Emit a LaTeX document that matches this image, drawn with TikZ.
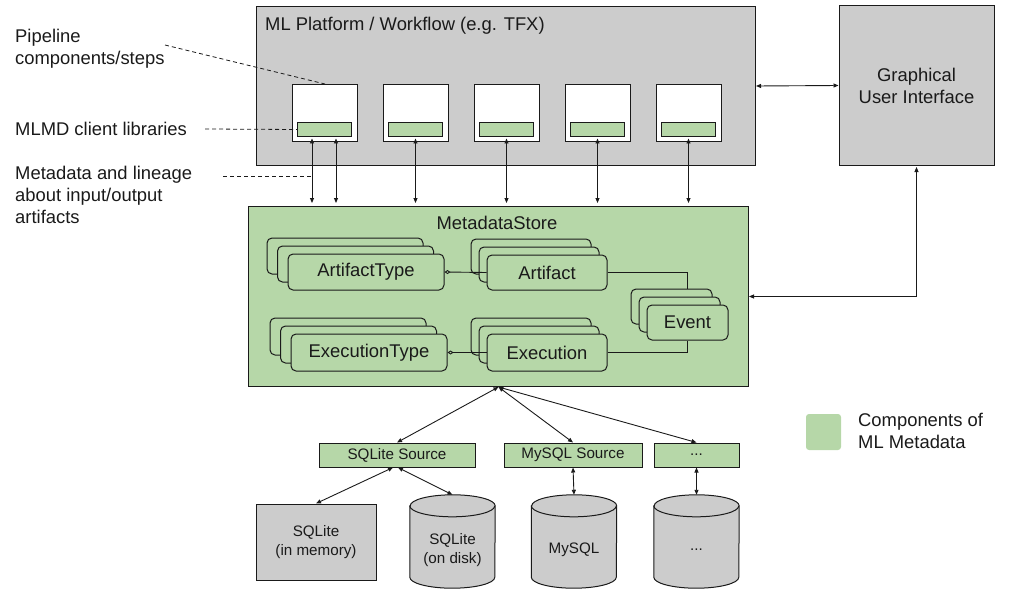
\documentclass[tikz,border=0pt]{standalone}
\usepackage{fontspec}
\setmainfont{Liberation Sans}
\usetikzlibrary{arrows.meta,shapes.geometric,shadows,calc}
\pgfdeclarelayer{bg}
\pgfdeclarelayer{mid}
\pgfsetlayers{bg,mid,main}
\definecolor{gfill}{HTML}{CCCCCC}
\definecolor{mlg}{HTML}{B6D7A8}
\definecolor{ink}{HTML}{1A1A1A}
\begin{document}
\begin{tikzpicture}[x=1pt,y=-1pt,
  every node/.style={font=\fontsize{18.4}{22}\selectfont, text=ink},
  smallfont/.style={font=\fontsize{15.2}{19}\selectfont},
  gbox/.style={draw=ink, line width=1pt, fill=gfill, inner sep=0pt, align=center},
  wbox/.style={draw=ink, line width=1pt, fill=white, inner sep=0pt, minimum width=65pt, minimum height=57pt, anchor=north west},
  lbar/.style={draw=ink, line width=1pt, fill=mlg, inner sep=0pt, minimum width=54pt, minimum height=14pt, anchor=north west},
  stk/.style={draw=ink, line width=1pt, fill=mlg, rounded corners=5pt, inner sep=0pt, align=center},
  stkw/.style={stk,
    copy shadow={shadow xshift=-21pt, shadow yshift=16pt, fill=mlg, draw=ink, line width=1pt},
    copy shadow={shadow xshift=-10.5pt, shadow yshift=8pt, fill=mlg, draw=ink, line width=1pt}},
  stkn/.style={stk,
    copy shadow={shadow xshift=-16pt, shadow yshift=16pt, fill=mlg, draw=ink, line width=1pt},
    copy shadow={shadow xshift=-8pt, shadow yshift=8pt, fill=mlg, draw=ink, line width=1pt}},
  srcbox/.style={draw=ink, line width=1pt, fill=mlg, inner sep=0pt, minimum height=24pt, smallfont},
  cylbox/.style={rectangle, draw=none, minimum width=85pt, minimum height=93pt, inner sep=0pt},
  cyltext/.style={align=center, inner sep=0pt, smallfont},
  wire/.style={draw=ink, line width=0.9pt},
  bi/.style={wire, {Triangle[length=5pt,width=4pt]}-{Triangle[length=5pt,width=4pt]}},
  leader/.style={draw=ink, line width=0.8pt, dash pattern=on 4pt off 3pt}
]
\useasboundingbox (0,0) rectangle (1009,599);

% platform
\node[gbox, minimum width=499pt, minimum height=159pt, anchor=north west] (plat) at (256,6) {};
\node[anchor=west, inner sep=0pt] (platT) at (265,26) {ML Platform / Workflow (e.g. TFX)};
\foreach \i in {1,...,5}{
  \node[wbox] (c\i) at ({292+91*(\i-1)},84) {};
  \node[lbar] (l\i) at ({297+91*(\i-1)},122) {};
}
\node[gbox, minimum width=155pt, minimum height=159pt] (gui) at (916.5,85.5) {Graphical\\User Interface};

% metadata store
\begin{pgfonlayer}{bg}
\node[draw=ink, line width=1pt, fill=mlg, minimum width=500pt, minimum height=180pt, anchor=north west, inner sep=0pt] (store) at (248,206) {};
\end{pgfonlayer}
\node (storeT) at (497,223) {MetadataStore};

\node[stkw, minimum width=156pt, minimum height=36pt] (atype) at (366,272) {ArtifactType};
\node[stkn, minimum width=120pt, minimum height=35pt] (art) at (547,272.5) {Artifact};
\node[stkn, minimum width=81pt, minimum height=35pt] (event) at (687.5,322.5) {Event};
\node[stkw, minimum width=156pt, minimum height=37pt] (etype) at (369,352.5) {ExecutionType};
\node[stkn, minimum width=120pt, minimum height=37pt] (exe) at (547,352.5) {Execution};

\draw[wire, {Diamond[open,length=6pt,width=4pt]}-] (atype.east) -- (art.west);
\draw[wire, {Diamond[open,length=6pt,width=4pt]}-] (etype.east) -- (exe.west);
\begin{pgfonlayer}{mid}
\draw[wire] (art.east) -| (event.north);
\draw[wire] (exe.east) -| (event.south);
\end{pgfonlayer}

% platform <-> store
\coordinate (a1) at ($(l1.south west)+(15,0)$);
\coordinate (a2) at ($(l1.south west)+(39,0)$);
\draw[bi, shorten <=1.5pt, shorten >=3pt] (a1) -- (a1 |- store.north);
\draw[bi, shorten <=1.5pt, shorten >=3pt] (a2) -- (a2 |- store.north);
\foreach \i in {2,...,5}{
  \draw[bi, shorten <=1.5pt, shorten >=3pt] (l\i.south) -- (l\i.south |- store.north);
}
\draw[bi] (plat.east) -- (gui.west);
\draw[bi, shorten <=1.5pt] (gui.south) |- (store.east);

% sources
\node[srcbox, minimum width=156pt] (s1) at (397,455) {SQLite Source};
\node[srcbox, minimum width=138pt] (s2) at (573,455) {MySQL Source};
\node[srcbox, minimum width=85pt] (s3) at (696.5,455) {...};
\draw[bi] (store.south) -- (s1.north);
\draw[bi] (store.south) -- (s2.north);
\draw[bi] (store.south) -- (s3.north);

% storage back ends
\node[gbox, minimum width=120pt, minimum height=76pt, smallfont] (mem) at (316,542) {SQLite\\(in memory)};
\node[cylbox] (disk) at (452.5,541.5) {};
\node[cylbox] (mysql) at (574,541.5) {};
\node[cylbox] (other) at (696.5,541.5) {};
\begin{pgfonlayer}{mid}
\foreach \n in {disk,mysql,other}{
  \draw[draw=ink, line width=1pt, fill=gfill]
    ($(\n.north west)+(0,11)$) -- ($(\n.south west)+(0,-11)$)
    arc[start angle=180, end angle=360, x radius=42.5pt, y radius=11pt]
    -- ($(\n.north east)+(0,11)$)
    arc[start angle=0, end angle=180, x radius=42.5pt, y radius=11pt] -- cycle;
  \draw[draw=ink, line width=1pt]
    ($(\n.north west)+(0,11)$) arc[start angle=180, end angle=360, x radius=42.5pt, y radius=11pt];
}
\end{pgfonlayer}
\node[cyltext] (diskT) at (452.5,550) {SQLite\\(on disk)};
\node[cyltext] (mysqlT) at (574,550) {MySQL};
\node[cyltext] (otherT) at (696.5,550) {...};
\draw[bi] ($(s1.south)+(-4,0)$) -- (mem.north);
\draw[bi] ($(s1.south)+(1,0)$) -- (disk.north);
\draw[bi] (s2.south) -- (mysql.north);
\draw[bi] (s3.south) -- (other.north);

% left labels
\node[anchor=west, align=left, inner sep=0pt] (lpipe) at (15,49) {Pipeline\\components/steps};
\node[anchor=west, inner sep=0pt] (lmlmd) at (15,129) {MLMD client libraries};
\node[anchor=west, align=left, inner sep=0pt] (lmeta) at (15,195) {Metadata and lineage\\about input/output\\artifacts};
\coordinate (d1) at (165,45);
\coordinate (d2) at (205,129);
\coordinate (d3) at (223,176);
\draw[leader] (d1) -- (c1.north);
\draw[leader] (d2) -- (l1.west);
\draw[leader] (d3) -- (d3 -| a1);

% legend
\node[fill=mlg, rounded corners=3pt, minimum width=35pt, minimum height=36pt, inner sep=0pt] (leg) at (823.5,432) {};
\node[anchor=west, align=left, inner sep=0pt] (legT) at (858,431) {Components of\\ML Metadata};
\end{tikzpicture}
\end{document}
